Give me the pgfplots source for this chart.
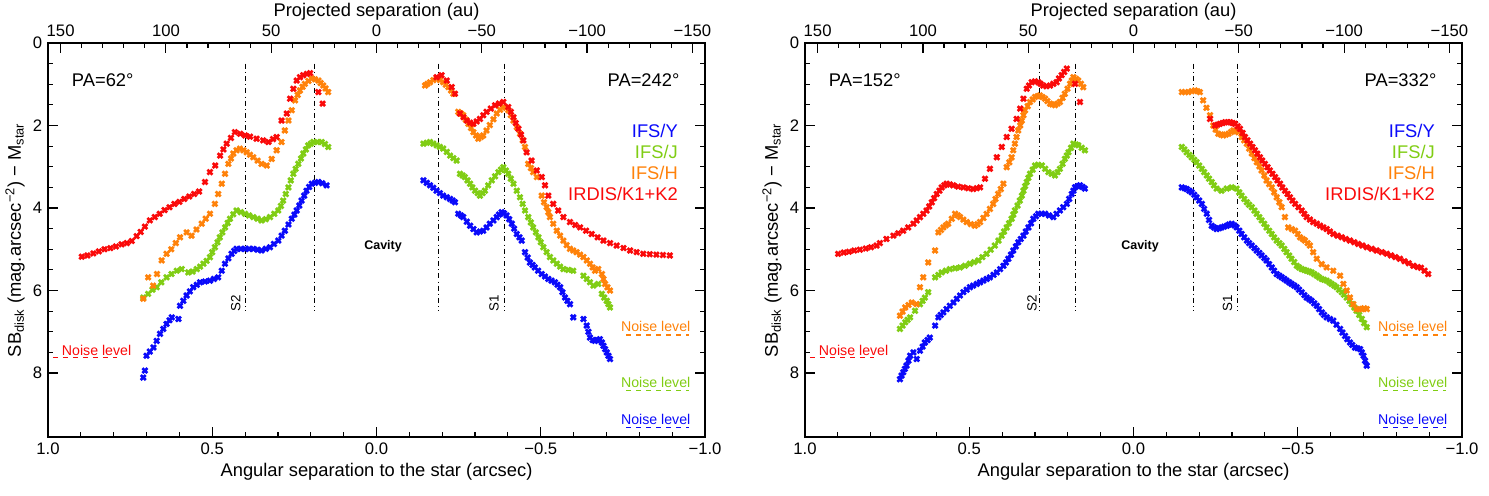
\documentclass[border=0pt]{standalone}
\usepackage{fontspec}
\setmainfont{Liberation Sans}
\usepackage{pgfplots}
\pgfplotsset{compat=1.18}
\definecolor{cY}{RGB}{10,10,250}
\definecolor{cJ}{RGB}{128,205,20}
\definecolor{cH}{RGB}{255,130,10}
\definecolor{cK}{RGB}{250,10,10}
\pgfplotsset{
  common/.style={
    scale only axis, width=394.2pt, height=236.4pt,
    tick align=inside,
    major tick length=6pt, minor tick length=3pt,
    tick style={black, line width=0.7pt},
    axis line style={line width=1pt},
    /pgf/number format/assume math mode=true,
    ticklabel style={font=\fontsize{10}{12}\selectfont},
    label style={font=\fontsize{11}{13}\selectfont},
  },
  panel/.style={
    common,
    xmin=-1, xmax=1, ymin=0, ymax=9.55,
    x dir=reverse, y dir=reverse,
    xtick={-1,-0.5,0,0.5,1},
    xticklabels={−1.0,−0.5,0.0,0.5,1.0},
    minor x tick num=4,
    ytick={0,2,4,6,8},
    minor y tick num=3,
    xtick pos=bottom, ytick pos=both, yticklabel pos=left,
    xlabel={Angular separation to the star (arcsec)},
    ylabel={SB\textsubscript{disk} (mag.arcsec\textsuperscript{−2}) − M\textsubscript{star}},
    xlabel style={yshift=2pt},
    ylabel style={yshift=-2pt},
    clip=false,
  },
  auaxis/.style={
    common,
    xmin=-156, xmax=156, x dir=reverse,
    ymin=0, ymax=1,
    axis x line*=top, axis y line=none,
    xtick={-150,-100,-50,0,50,100,150},
    xticklabels={−150,−100,−50,0,50,100,150},
    minor x tick num=4,
    xlabel={Projected separation (au)},
    xlabel style={yshift=-4pt},
  },
  dat/.style={only marks, mark=x, mark size=2.1pt, mark options={line width=1.6pt}},
}
\newcommand{\annot}[8]{%
  \addplot[black, dash dot, line width=0.6pt] coordinates {(#1,0.5) (#1,6.5)};
  \addplot[black, dash dot, line width=0.6pt] coordinates {(#2,0.5) (#2,6.5)};
  \addplot[black, dash dot, line width=0.6pt] coordinates {(#3,0.5) (#3,6.5)};
  \addplot[black, dash dot, line width=0.6pt] coordinates {(#4,0.5) (#4,6.5)};
  \node[rotate=90, font=\fontsize{8}{9}\selectfont] at (axis cs:#5,6.3) {S2};
  \node[rotate=90, font=\fontsize{8}{9}\selectfont] at (axis cs:#6,6.3) {S1};
  \node[font=\fontsize{7.5}{8}\selectfont\bfseries] at (axis cs:-0.02,4.93) {Cavity};
  \node[anchor=west, font=\fontsize{11}{13}\selectfont] at (axis cs:0.945,0.9) {PA=#7°};
  \node[anchor=east, font=\fontsize{11}{13}\selectfont] at (axis cs:-0.94,0.9) {PA=#8°};
  \node[anchor=east, text=cY, font=\fontsize{11}{13}\selectfont] at (axis cs:-0.935,2.12) {IFS/Y};
  \node[anchor=east, text=cJ, font=\fontsize{11}{13}\selectfont] at (axis cs:-0.935,2.63) {IFS/J};
  \node[anchor=east, text=cH, font=\fontsize{11}{13}\selectfont] at (axis cs:-0.935,3.14) {IFS/H};
  \node[anchor=east, text=cK, font=\fontsize{11}{13}\selectfont] at (axis cs:-0.935,3.65) {IRDIS/K1+K2};
  \addplot[cK, dashed, line width=0.8pt] coordinates {(0.985,7.63) (0.79,7.63)};
  \node[text=cK, font=\fontsize{8.5}{9}\selectfont] at (axis cs:0.852,7.44) {Noise level};
  \addplot[cH, dashed, line width=0.8pt] coordinates {(-0.76,7.08) (-0.95,7.08)};
  \node[text=cH, font=\fontsize{8.5}{9}\selectfont] at (axis cs:-0.85,6.88) {Noise level};
  \addplot[cJ, dashed, line width=0.8pt] coordinates {(-0.76,8.43) (-0.95,8.43)};
  \node[text=cJ, font=\fontsize{8.5}{9}\selectfont] at (axis cs:-0.85,8.23) {Noise level};
  \addplot[cY, dashed, line width=0.8pt] coordinates {(-0.76,9.32) (-0.95,9.32)};
  \node[text=cY, font=\fontsize{8.5}{9}\selectfont] at (axis cs:-0.85,9.12) {Noise level};
}
\begin{document}
\begin{tikzpicture}
\useasboundingbox (0,0) rectangle (893.4pt,297pt);
% ---------------- left panel ----------------
\begin{axis}[panel, at={(28.8pt,34.8pt)}, anchor=south west]
\annot{0.40}{0.19}{-0.19}{-0.39}{0.428}{-0.358}{62}{242}
\addplot[dat, cY] coordinates {
(0.710,8.11) (0.705,7.94) (0.700,7.58) (0.690,7.48) (0.679,7.38) (0.669,7.22) (0.659,7.05) (0.649,6.93)
(0.639,6.81) (0.630,6.72) (0.623,6.65) (0.603,6.69) (0.598,6.37) (0.588,6.25) (0.578,6.12) (0.568,6.02)
(0.558,5.92) (0.547,5.86) (0.537,5.80) (0.522,5.78) (0.507,5.76) (0.495,5.72) (0.482,5.68) (0.471,5.52)
(0.461,5.35) (0.451,5.22) (0.441,5.11) (0.433,5.04) (0.426,4.99) (0.413,4.99) (0.400,4.99) (0.388,4.99)
(0.375,4.99) (0.362,5.01) (0.350,5.03) (0.337,4.99) (0.324,4.95) (0.312,4.87) (0.299,4.79) (0.289,4.67)
(0.279,4.55) (0.268,4.40) (0.258,4.26) (0.250,4.16) (0.243,4.06) (0.235,3.94) (0.228,3.82) (0.220,3.70)
(0.213,3.58) (0.205,3.49) (0.197,3.41) (0.187,3.39) (0.177,3.37) (0.165,3.40) (0.152,3.45)
(-0.143,3.33) (-0.153,3.39) (-0.163,3.45) (-0.173,3.51) (-0.183,3.58) (-0.193,3.64) (-0.203,3.70) (-0.214,3.74)
(-0.224,3.78) (-0.232,3.82) (-0.239,3.86) (-0.249,4.14) (-0.257,4.18) (-0.264,4.22) (-0.275,4.33) (-0.285,4.43)
(-0.295,4.51) (-0.305,4.59) (-0.315,4.57) (-0.325,4.55) (-0.335,4.47) (-0.345,4.38) (-0.356,4.30) (-0.366,4.22)
(-0.373,4.16) (-0.381,4.10) (-0.388,4.13) (-0.396,4.18) (-0.404,4.27) (-0.412,4.38) (-0.419,4.50) (-0.427,4.63)
(-0.435,4.71) (-0.442,4.79) (-0.452,5.07) (-0.460,5.20) (-0.467,5.32) (-0.475,5.38) (-0.482,5.44) (-0.492,5.52)
(-0.503,5.60) (-0.513,5.66) (-0.523,5.72) (-0.533,5.76) (-0.543,5.80) (-0.551,5.86) (-0.559,5.92) (-0.566,6.04)
(-0.574,6.17) (-0.581,6.25) (-0.589,6.33) (-0.599,6.65) (-0.630,6.69) (-0.640,6.85) (-0.645,7.00) (-0.650,7.14)
(-0.658,7.20) (-0.665,7.22) (-0.672,7.20) (-0.680,7.18) (-0.686,7.26) (-0.691,7.34) (-0.696,7.42) (-0.701,7.50)
(-0.706,7.58) (-0.711,7.66)
};
\addplot[dat, cJ] coordinates {
(0.710,6.17) (0.695,6.08) (0.682,5.98) (0.669,5.92) (0.655,5.80) (0.639,5.68) (0.624,5.60) (0.608,5.52)
(0.593,5.48) (0.573,5.56) (0.560,5.54) (0.547,5.48) (0.537,5.42) (0.527,5.35) (0.517,5.28) (0.507,5.19)
(0.500,5.07) (0.492,4.95) (0.484,4.83) (0.477,4.71) (0.469,4.59) (0.461,4.47) (0.453,4.36) (0.446,4.26)
(0.436,4.15) (0.426,4.06) (0.413,4.10) (0.400,4.14) (0.388,4.18) (0.375,4.22) (0.362,4.26) (0.350,4.30)
(0.337,4.27) (0.324,4.22) (0.311,4.14) (0.299,4.06) (0.291,3.95) (0.284,3.82) (0.276,3.66) (0.268,3.50)
(0.261,3.33) (0.253,3.17) (0.246,3.05) (0.238,2.93) (0.230,2.80) (0.223,2.68) (0.215,2.58) (0.208,2.48)
(0.200,2.44) (0.192,2.40) (0.180,2.40) (0.167,2.40) (0.157,2.45) (0.147,2.52)
(-0.143,2.44) (-0.153,2.42) (-0.163,2.40) (-0.173,2.44) (-0.183,2.48) (-0.193,2.52) (-0.203,2.56) (-0.214,2.64)
(-0.224,2.73) (-0.234,2.79) (-0.244,2.85) (-0.254,3.17) (-0.262,3.21) (-0.269,3.25) (-0.277,3.33) (-0.285,3.41)
(-0.292,3.50) (-0.300,3.58) (-0.308,3.64) (-0.315,3.70) (-0.323,3.64) (-0.330,3.58) (-0.340,3.45) (-0.351,3.33)
(-0.361,3.23) (-0.371,3.13) (-0.379,3.07) (-0.386,3.01) (-0.394,3.09) (-0.401,3.17) (-0.409,3.29) (-0.417,3.41)
(-0.427,3.58) (-0.437,3.74) (-0.445,3.90) (-0.452,4.06) (-0.462,4.22) (-0.470,4.35) (-0.477,4.47) (-0.485,4.59)
(-0.493,4.71) (-0.500,4.83) (-0.508,4.95) (-0.518,5.07) (-0.528,5.19) (-0.538,5.27) (-0.549,5.35) (-0.559,5.42)
(-0.569,5.48) (-0.584,5.50) (-0.599,5.52) (-0.630,5.64) (-0.640,5.72) (-0.650,5.80) (-0.660,5.88) (-0.675,5.84)
(-0.686,6.08) (-0.693,6.17) (-0.701,6.25) (-0.706,6.33) (-0.711,6.41)
};
\addplot[dat, cH] coordinates {
(0.710,6.20) (0.695,5.68) (0.680,5.88) (0.668,5.60) (0.654,5.27) (0.639,5.11) (0.625,5.00) (0.611,4.85)
(0.598,4.71) (0.578,4.59) (0.563,4.67) (0.548,4.52) (0.532,4.38) (0.520,4.26) (0.507,4.14) (0.492,3.90)
(0.482,3.66) (0.471,3.41) (0.461,3.17) (0.451,2.93) (0.443,2.80) (0.436,2.68) (0.426,2.60) (0.416,2.56)
(0.405,2.60) (0.395,2.65) (0.385,2.71) (0.375,2.77) (0.362,2.85) (0.350,2.93) (0.334,2.97) (0.319,2.81)
(0.304,2.60) (0.289,2.40) (0.279,2.12) (0.268,1.88) (0.258,1.63) (0.248,1.39) (0.240,1.26) (0.233,1.15)
(0.225,1.06) (0.218,0.99) (0.207,0.92) (0.197,0.86) (0.187,0.88) (0.177,0.91) (0.170,0.97) (0.162,1.03)
(0.155,1.10) (0.147,1.19)
(-0.148,1.03) (-0.155,0.99) (-0.163,0.95) (-0.173,0.90) (-0.183,0.86) (-0.193,0.90) (-0.203,0.95) (-0.211,1.01)
(-0.219,1.07) (-0.227,1.15) (-0.234,1.23) (-0.249,1.67) (-0.257,1.71) (-0.264,1.75) (-0.272,1.86) (-0.280,1.96)
(-0.288,2.06) (-0.295,2.16) (-0.303,2.24) (-0.310,2.32) (-0.318,2.28) (-0.325,2.24) (-0.335,2.12) (-0.345,1.99)
(-0.356,1.85) (-0.366,1.71) (-0.376,1.62) (-0.386,1.55) (-0.394,1.57) (-0.401,1.63) (-0.409,1.75) (-0.417,1.88)
(-0.427,2.04) (-0.437,2.20) (-0.445,2.36) (-0.452,2.52) (-0.462,2.93) (-0.470,3.03) (-0.477,3.13) (-0.488,3.25)
(-0.503,3.70) (-0.510,3.86) (-0.518,3.98) (-0.523,4.10) (-0.528,4.22) (-0.538,4.38) (-0.549,4.55) (-0.559,4.67)
(-0.569,4.79) (-0.579,4.90) (-0.589,4.99) (-0.599,5.03) (-0.609,5.07) (-0.620,5.13) (-0.630,5.19) (-0.640,5.27)
(-0.650,5.35) (-0.658,5.44) (-0.665,5.52) (-0.675,5.48) (-0.686,5.60) (-0.691,5.72) (-0.696,5.84) (-0.703,5.92)
(-0.711,6.00)
};
\addplot[dat, cK] coordinates {
(0.897,5.18) (0.880,5.15) (0.862,5.10) (0.845,5.05) (0.828,5.00) (0.810,4.97) (0.793,4.93) (0.776,4.88)
(0.760,4.85) (0.745,4.80) (0.730,4.68) (0.718,4.58) (0.705,4.45) (0.690,4.30) (0.675,4.22) (0.660,4.14)
(0.645,4.05) (0.630,3.98) (0.615,3.90) (0.600,3.85) (0.585,3.78) (0.570,3.72) (0.555,3.66) (0.540,3.60)
(0.522,3.37) (0.507,3.13) (0.491,2.97) (0.476,2.73) (0.466,2.58) (0.456,2.44) (0.443,2.30) (0.431,2.16)
(0.415,2.20) (0.400,2.24) (0.385,2.27) (0.365,2.32) (0.345,2.36) (0.329,2.40) (0.315,2.33) (0.304,2.28)
(0.289,1.88) (0.273,1.71) (0.263,1.35) (0.253,1.11) (0.243,0.91) (0.233,0.83) (0.223,0.78) (0.212,0.75)
(0.202,0.73) (0.177,1.19) (0.164,1.47)
(-0.183,0.83) (-0.198,0.78) (-0.214,0.91) (-0.229,1.07) (-0.239,1.23) (-0.254,1.71) (-0.265,1.80) (-0.275,1.88)
(-0.285,1.93) (-0.295,1.96) (-0.305,1.90) (-0.315,1.84) (-0.325,1.75) (-0.335,1.67) (-0.348,1.59) (-0.361,1.51)
(-0.373,1.47) (-0.386,1.43) (-0.401,1.55) (-0.409,1.67) (-0.417,1.80) (-0.424,1.94) (-0.432,2.08) (-0.440,2.22)
(-0.447,2.36) (-0.457,2.65) (-0.472,2.85) (-0.488,3.09) (-0.503,3.25) (-0.513,3.45) (-0.523,3.70) (-0.538,3.90)
(-0.553,4.06) (-0.569,4.22) (-0.589,4.34) (-0.605,4.41) (-0.620,4.47) (-0.638,4.55) (-0.655,4.63) (-0.673,4.71)
(-0.691,4.79) (-0.711,4.85) (-0.731,4.91) (-0.752,4.97) (-0.772,5.03) (-0.792,5.07) (-0.812,5.11) (-0.832,5.12)
(-0.852,5.13) (-0.872,5.14) (-0.893,5.15)
};
\end{axis}
\begin{axis}[auaxis, at={(28.8pt,34.8pt)}, anchor=south west]
\end{axis}
% ---------------- right panel ----------------
\begin{axis}[panel, at={(483pt,34.8pt)}, anchor=south west]
\annot{0.287}{0.178}{-0.182}{-0.317}{0.309}{-0.286}{152}{332}
\addplot[dat, cY] coordinates {
(0.711,8.15) (0.706,8.06) (0.701,7.98) (0.696,7.90) (0.691,7.82) (0.685,7.70) (0.680,7.58) (0.670,7.50)
(0.660,7.66) (0.650,7.46) (0.642,7.36) (0.635,7.26) (0.627,7.20) (0.620,7.14) (0.604,6.85) (0.594,6.65)
(0.587,6.59) (0.579,6.53) (0.569,6.45) (0.559,6.37) (0.548,6.29) (0.538,6.20) (0.528,6.12) (0.518,6.04)
(0.508,5.98) (0.498,5.92) (0.488,5.88) (0.477,5.84) (0.467,5.80) (0.457,5.76) (0.447,5.72) (0.437,5.68)
(0.426,5.62) (0.416,5.56) (0.406,5.48) (0.396,5.40) (0.388,5.32) (0.381,5.23) (0.373,5.13) (0.366,5.03)
(0.358,4.93) (0.351,4.83) (0.343,4.75) (0.335,4.67) (0.328,4.57) (0.320,4.47) (0.312,4.37) (0.305,4.26)
(0.297,4.20) (0.290,4.14) (0.280,4.14) (0.269,4.14) (0.257,4.18) (0.244,4.22) (0.234,4.14) (0.224,4.06)
(0.214,3.98) (0.203,3.90) (0.196,3.78) (0.188,3.66) (0.183,3.58) (0.178,3.50) (0.170,3.47) (0.163,3.45)
(0.155,3.49) (0.148,3.53)
(-0.147,3.50) (-0.155,3.52) (-0.162,3.54) (-0.170,3.58) (-0.177,3.62) (-0.185,3.68) (-0.192,3.74) (-0.200,3.82)
(-0.208,3.90) (-0.215,4.02) (-0.223,4.14) (-0.230,4.29) (-0.238,4.43) (-0.245,4.47) (-0.253,4.51) (-0.261,4.49)
(-0.268,4.47) (-0.276,4.45) (-0.284,4.43) (-0.291,4.40) (-0.299,4.38) (-0.307,4.42) (-0.314,4.47) (-0.322,4.55)
(-0.329,4.63) (-0.337,4.71) (-0.345,4.79) (-0.352,4.85) (-0.360,4.91) (-0.368,4.97) (-0.375,5.03) (-0.383,5.09)
(-0.390,5.15) (-0.398,5.21) (-0.405,5.27) (-0.413,5.36) (-0.421,5.44) (-0.428,5.52) (-0.436,5.60) (-0.444,5.64)
(-0.451,5.68) (-0.459,5.72) (-0.466,5.76) (-0.474,5.80) (-0.481,5.84) (-0.489,5.88) (-0.497,5.92) (-0.504,5.98)
(-0.512,6.04) (-0.520,6.11) (-0.527,6.17) (-0.535,6.21) (-0.542,6.25) (-0.550,6.31) (-0.558,6.37) (-0.565,6.45)
(-0.573,6.53) (-0.580,6.59) (-0.588,6.65) (-0.598,6.69) (-0.608,6.73) (-0.618,6.83) (-0.629,6.93) (-0.636,7.02)
(-0.644,7.10) (-0.651,7.18) (-0.659,7.26) (-0.666,7.32) (-0.674,7.38) (-0.682,7.40) (-0.690,7.42) (-0.695,7.50)
(-0.700,7.58) (-0.705,7.70) (-0.710,7.82)
};
\addplot[dat, cJ] coordinates {
(0.711,6.93) (0.703,6.85) (0.695,6.77) (0.688,6.71) (0.680,6.65) (0.665,6.49) (0.650,6.33) (0.642,6.25)
(0.635,6.17) (0.625,6.04) (0.604,5.68) (0.594,5.62) (0.584,5.56) (0.571,5.52) (0.559,5.48) (0.543,5.46)
(0.528,5.44) (0.513,5.40) (0.498,5.35) (0.485,5.31) (0.472,5.27) (0.460,5.19) (0.447,5.11) (0.435,5.01)
(0.422,4.91) (0.411,4.79) (0.401,4.67) (0.394,4.57) (0.386,4.47) (0.379,4.37) (0.371,4.26) (0.366,4.16)
(0.361,4.06) (0.353,3.94) (0.346,3.82) (0.340,3.70) (0.335,3.58) (0.330,3.47) (0.325,3.37) (0.320,3.27)
(0.315,3.17) (0.307,3.07) (0.300,2.97) (0.290,2.95) (0.279,2.97) (0.269,3.05) (0.259,3.13) (0.249,3.17)
(0.239,3.21) (0.231,3.13) (0.224,3.05) (0.216,2.93) (0.209,2.81) (0.203,2.73) (0.198,2.65) (0.190,2.54)
(0.183,2.44) (0.175,2.46) (0.168,2.48) (0.158,2.54) (0.148,2.60)
(-0.147,2.52) (-0.155,2.58) (-0.162,2.65) (-0.170,2.71) (-0.177,2.77) (-0.185,2.83) (-0.192,2.89) (-0.200,2.97)
(-0.208,3.05) (-0.215,3.13) (-0.223,3.21) (-0.230,3.29) (-0.238,3.37) (-0.245,3.45) (-0.253,3.53) (-0.268,3.58)
(-0.284,3.53) (-0.299,3.50) (-0.314,3.53) (-0.322,3.62) (-0.329,3.70) (-0.337,3.78) (-0.345,3.86) (-0.352,3.92)
(-0.360,3.98) (-0.368,4.06) (-0.375,4.14) (-0.383,4.22) (-0.390,4.30) (-0.398,4.38) (-0.405,4.47) (-0.413,4.55)
(-0.421,4.63) (-0.428,4.71) (-0.436,4.79) (-0.444,4.85) (-0.451,4.91) (-0.459,4.99) (-0.466,5.07) (-0.474,5.15)
(-0.481,5.23) (-0.489,5.31) (-0.497,5.40) (-0.504,5.44) (-0.512,5.48) (-0.520,5.50) (-0.527,5.52) (-0.535,5.54)
(-0.542,5.56) (-0.550,5.60) (-0.558,5.64) (-0.565,5.68) (-0.573,5.72) (-0.580,5.74) (-0.588,5.76) (-0.596,5.80)
(-0.603,5.84) (-0.611,5.88) (-0.618,5.92) (-0.626,5.98) (-0.634,6.04) (-0.641,6.10) (-0.649,6.17) (-0.657,6.25)
(-0.664,6.33) (-0.672,6.41) (-0.679,6.49) (-0.687,6.59) (-0.695,6.69) (-0.702,6.79) (-0.710,6.89)
};
\addplot[dat, cH] coordinates {
(0.711,6.61) (0.703,6.51) (0.695,6.41) (0.685,6.35) (0.675,6.29) (0.660,6.33) (0.650,5.92) (0.640,5.68)
(0.625,5.32) (0.604,5.03) (0.594,4.59) (0.586,4.53) (0.579,4.47) (0.571,4.42) (0.564,4.38) (0.553,4.26)
(0.543,4.14) (0.535,4.18) (0.528,4.22) (0.518,4.28) (0.508,4.34) (0.495,4.39) (0.483,4.43) (0.475,4.39)
(0.467,4.34) (0.457,4.24) (0.447,4.14) (0.437,4.02) (0.427,3.90) (0.420,3.78) (0.412,3.66) (0.404,3.54)
(0.396,3.41) (0.386,3.01) (0.378,2.89) (0.371,2.77) (0.366,2.60) (0.361,2.44) (0.356,2.28) (0.351,2.12)
(0.345,2.00) (0.340,1.88) (0.335,1.75) (0.330,1.63) (0.322,1.53) (0.315,1.43) (0.307,1.37) (0.300,1.31)
(0.292,1.29) (0.285,1.27) (0.277,1.31) (0.269,1.35) (0.262,1.41) (0.254,1.47) (0.247,1.49) (0.239,1.51)
(0.231,1.47) (0.224,1.43) (0.216,1.33) (0.209,1.23) (0.201,1.11) (0.193,0.99) (0.188,0.91) (0.183,0.83)
(0.175,0.87) (0.168,0.91) (0.160,0.99) (0.153,1.07)
(-0.147,1.19) (-0.157,1.19) (-0.167,1.19) (-0.177,1.17) (-0.187,1.15) (-0.195,1.17) (-0.202,1.19) (-0.212,1.39)
(-0.222,1.57) (-0.233,1.75) (-0.243,2.00) (-0.250,2.10) (-0.258,2.20) (-0.266,2.22) (-0.273,2.24) (-0.281,2.22)
(-0.289,2.20) (-0.297,2.16) (-0.304,2.12) (-0.312,2.14) (-0.319,2.16) (-0.329,2.28) (-0.337,2.36) (-0.345,2.44)
(-0.352,2.56) (-0.360,2.68) (-0.368,2.79) (-0.375,2.89) (-0.383,2.99) (-0.390,3.09) (-0.398,3.21) (-0.405,3.33)
(-0.413,3.42) (-0.421,3.50) (-0.428,3.62) (-0.436,3.74) (-0.444,3.86) (-0.451,3.98) (-0.461,4.22) (-0.471,4.47)
(-0.482,4.51) (-0.492,4.55) (-0.500,4.63) (-0.507,4.71) (-0.515,4.75) (-0.522,4.79) (-0.530,4.85) (-0.537,4.91)
(-0.547,5.07) (-0.558,5.23) (-0.573,5.36) (-0.588,5.44) (-0.608,5.52) (-0.629,5.64) (-0.639,5.84) (-0.649,6.00)
(-0.659,6.17) (-0.669,6.33) (-0.679,6.45) (-0.687,6.45) (-0.695,6.45) (-0.702,6.43) (-0.710,6.45)
};
\addplot[dat, cK] coordinates {
(0.899,5.11) (0.882,5.08) (0.866,5.06) (0.850,5.03) (0.833,5.01) (0.815,4.98) (0.799,4.95) (0.782,4.91)
(0.772,4.85) (0.752,4.75) (0.731,4.67) (0.716,4.61) (0.701,4.55) (0.686,4.47) (0.670,4.38) (0.660,4.30)
(0.650,4.22) (0.640,4.14) (0.630,4.06) (0.622,3.96) (0.614,3.86) (0.607,3.76) (0.599,3.66) (0.591,3.58)
(0.584,3.50) (0.576,3.45) (0.569,3.41) (0.559,3.43) (0.549,3.45) (0.534,3.48) (0.518,3.50) (0.503,3.52)
(0.488,3.54) (0.477,3.52) (0.467,3.50) (0.452,3.29) (0.437,3.05) (0.416,2.77) (0.401,2.52) (0.386,2.28)
(0.371,2.08) (0.356,1.84) (0.345,1.59) (0.335,1.35) (0.325,1.11) (0.318,1.03) (0.310,0.95) (0.300,0.93)
(0.290,0.95) (0.283,0.99) (0.275,1.03) (0.265,1.05) (0.254,1.03) (0.244,0.99) (0.234,0.95) (0.227,0.86)
(0.219,0.78) (0.211,0.70) (0.203,0.62) (0.178,0.99) (0.163,1.43)
(-0.233,1.84) (-0.248,2.00) (-0.256,1.98) (-0.263,1.96) (-0.271,1.94) (-0.279,1.92) (-0.287,1.92) (-0.294,1.92)
(-0.302,1.94) (-0.309,1.96) (-0.317,2.02) (-0.324,2.08) (-0.332,2.18) (-0.339,2.28) (-0.347,2.36) (-0.355,2.44)
(-0.362,2.52) (-0.370,2.60) (-0.377,2.68) (-0.385,2.77) (-0.392,2.85) (-0.400,2.93) (-0.408,3.01) (-0.415,3.09)
(-0.423,3.17) (-0.431,3.25) (-0.438,3.33) (-0.446,3.41) (-0.453,3.50) (-0.461,3.58) (-0.469,3.66) (-0.476,3.74)
(-0.484,3.82) (-0.492,3.90) (-0.502,3.98) (-0.512,4.06) (-0.520,4.14) (-0.527,4.22) (-0.537,4.28) (-0.547,4.34)
(-0.558,4.38) (-0.568,4.43) (-0.578,4.47) (-0.588,4.51) (-0.598,4.57) (-0.608,4.63) (-0.621,4.67) (-0.634,4.71)
(-0.646,4.75) (-0.659,4.79) (-0.672,4.83) (-0.684,4.87) (-0.697,4.91) (-0.710,4.95) (-0.725,4.99) (-0.740,5.03)
(-0.756,5.07) (-0.771,5.11) (-0.784,5.15) (-0.797,5.19) (-0.811,5.23) (-0.825,5.29) (-0.838,5.34) (-0.852,5.40)
(-0.865,5.43) (-0.875,5.45) (-0.886,5.52) (-0.897,5.60)
};
\end{axis}
\begin{axis}[auaxis, at={(483pt,34.8pt)}, anchor=south west]
\end{axis}
\end{tikzpicture}
\end{document}
